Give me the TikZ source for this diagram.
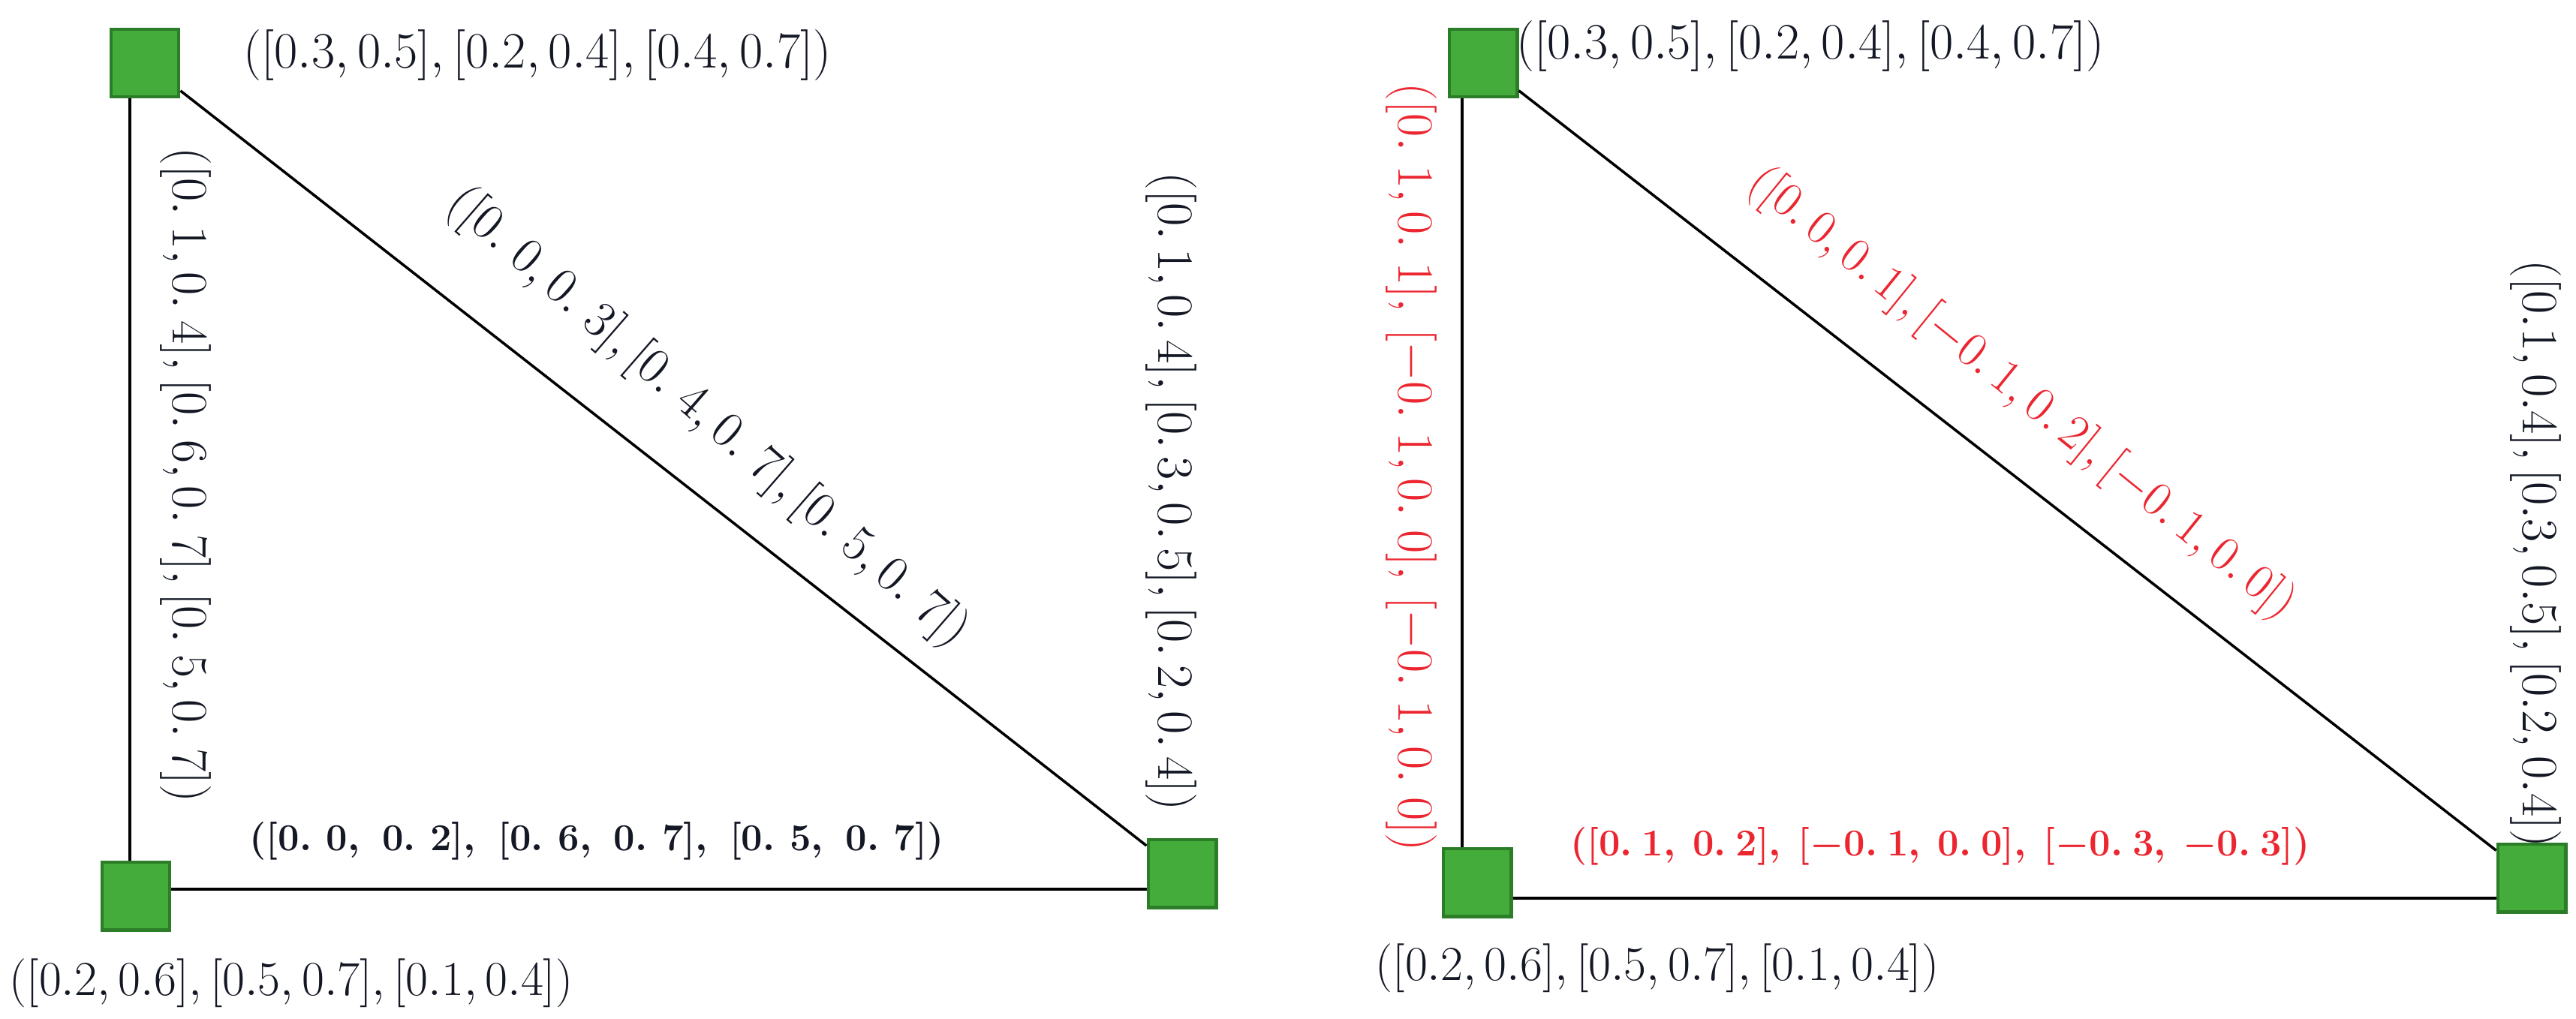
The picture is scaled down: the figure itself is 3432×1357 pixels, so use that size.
\RequirePackage{fix-cm}
\documentclass[tikz,border=0pt]{standalone}
\usepackage{amsmath}
\usepackage{xcolor}
\usepackage{tikz}
\definecolor{sqgreen}{RGB}{67,172,58}
\definecolor{sqedge}{RGB}{44,125,40}
\definecolor{valred}{RGB}{236,38,48}
\definecolor{valink}{RGB}{20,24,36}
\newcommand{\vgap}{\hspace{0.39em}}

\tikzset{
	vertex/.style={draw=sqedge, fill=sqgreen, line width=1.4pt, minimum size=0.9cm, inner sep=0pt},
	edge/.style={line width=1.2pt},
	val/.style={text=valink, inner sep=0pt, font=\fontsize{19.3}{22}\selectfont},
	newval/.style={val, text=valred},
	edgeval/.style={font=\fontsize{14.4}{17}\selectfont\boldmath}
}

\begin{document}
\begin{tikzpicture}[x=0.01cm, y=-0.01cm]
					\useasboundingbox (0,0) rectangle (3432,1357);
					
					\node[vertex] (A) at (193,84) {};
					\node[vertex] (B) at (181,1194) {};
					\node[vertex] (C) at (1575,1164) {};
					\node[vertex] (D) at (1976,84) {};
					\node[vertex] (E) at (1968,1176) {};
					\node[vertex] (F) at (3373,1170) {};
					
					\coordinate (AB) at ([xshift=-0.08cm]B.north);
					\coordinate (BC) at ([yshift=0.09cm]B.east);
					\coordinate (DE) at ([xshift=-0.2cm]E.north);
					\coordinate (EF) at ([yshift=-0.21cm]E.east);
					
					\draw[edge] (AB) -- (AB |- A.south);
					\draw[edge, line width=1.4pt] (BC) -- (BC -| C.west);
					\draw[edge, line width=1pt] (A) -- (C);
					\draw[edge] (DE) -- (DE |- D.south);
					\draw[edge, line width=1.4pt] (EF) -- (EF -| F.west);
					\draw[edge, line width=1pt] (D) -- (F);
					
					\node[val] (tA) at (716,74) {$([0.3, 0.5], [0.2, 0.4], [0.4, 0.7])$};
					\node[val, rotate=-90] (tAB) at (247,633) {$([0.\:1, 0.\:4], [0.\:6, 0.\:7], [0.\:5, 0.\:7])$};
					\node[val, rotate=-41] (tAC) at (943,557) {$([0.\;0, 0.\;3], [0.\;4, 0.\;7], [0.\;5, 0.\;7])$};
					\node[val, rotate=-90] (tC) at (1560,655) {$([0.\,1, 0.\,4], [0.\,3, 0.\,5], [0.\,2, 0.\,4])$};
					\node[val, edgeval] (tBC) at (795,1121) {$([0.\vgap 0,\vgap 0.\vgap 2],\vgap [0.\vgap 6,\vgap 0.\vgap 7],\vgap [0.\vgap 5,\vgap 0.\vgap 7])$};
					\node[val, font=\fontsize{18.5}{21}\selectfont] (tB) at (388,1310) {$([0.2, 0.6], [0.5, 0.7], [0.1, 0.4])$};
					
					\node[val] (tD) at (2412,62) {$([0.3, 0.5], [0.2, 0.4], [0.4, 0.7])$};
					\node[newval, rotate=-90] (tDE) at (1880,623) {$([0.\;1, 0.\;1],\,[-0.\;1, 0.\;0],\,[-0.\;1, 0.\;0])$};
					\node[newval, rotate=-39, font=\fontsize{18.5}{21}\selectfont] (tDF) at (2693,525) {$([0.\,0, 0.\,1], [-0.\,1, 0.\,2], [-0.\,1, 0.\,0])$};
					\node[val, rotate=-90] (tF) at (3378,738) {$([0.1, 0.4], [0.3, 0.5], [0.2, 0.4])$};
					\node[newval, edgeval] (tEF) at (2585,1128) {$([0.\:1,\:0.\:2],\:[-0.\:1,\:0.\:0],\:[-0.\:3,\:-0.\:3])$};
					\node[val, font=\fontsize{18.5}{21}\selectfont] (tE) at (2208,1290) {$([0.2, 0.6], [0.5, 0.7], [0.1, 0.4])$};
				\end{tikzpicture}
\end{document}
